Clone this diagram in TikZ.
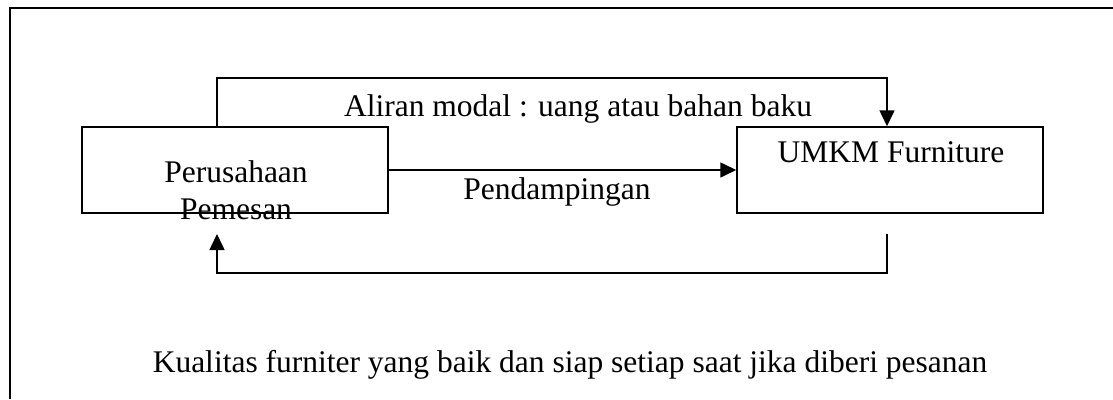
\documentclass[tikz,border=0pt]{standalone}
\usepackage{fontspec}
\setmainfont{Liberation Serif}
\usetikzlibrary{arrows.meta}
\begin{document}
\begin{tikzpicture}[x=1pt,y=-1pt,
  box/.style={draw,line width=1.5pt,minimum width=306pt,minimum height=86pt,inner sep=0pt},
  txt/.style={anchor=base,inner sep=0pt,font=\fontsize{31.5}{37}\selectfont},
  conn/.style={line width=1.6pt},
  arr/.style={conn,-{Triangle[length=16pt,width=15pt]}}]
\useasboundingbox (0,0) rectangle (1113,399);
\draw[line width=2pt] (10,399) -- (10,8) -- (1113,8);
\node[box] (L) at (235,170) {};
\node[box] (R) at (890,170) {};
\node[txt] (l1) at (236,182) {Perusahaan};
\node[txt] (l2) at (236,219) {Pemesan};
\node[txt] (r1) at (891,162) {UMKM Furniture};
\node[txt] (top) at (578,116) {Aliran modal : uang atau bahan baku};
\node[txt] (mid) at (557,199) {Pendampingan};
\node[txt] (bot) at (570,372) {Kualitas furniter yang baik dan siap setiap saat jika diberi pesanan};
\coordinate (t1) at (217,78);
\coordinate (t2) at (887,78);
\draw[arr] (t1 |- L.north) -- (t1) -- (t2) -- (t2 |- R.north);
\draw[arr] (L.east) -- (R.west);
\coordinate (b1) at (887,234);
\coordinate (b2) at (887,273);
\coordinate (b3) at (217,273);
\coordinate (b4) at (217,234);
\draw[arr] (b1) -- (b2) -- (b3) -- (b4);
\end{tikzpicture}
\end{document}
